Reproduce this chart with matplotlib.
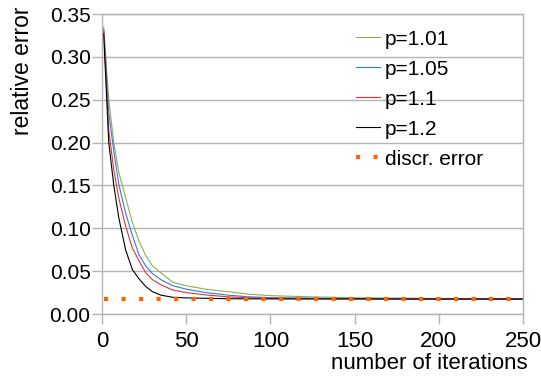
import matplotlib
matplotlib.use("Agg")
import matplotlib.pyplot as plt
from matplotlib.ticker import FormatStrFormatter

plt.rcParams['font.family'] = ['Liberation Sans', 'DejaVu Sans']

iters = [1, 4, 7, 10, 14, 18, 22, 26, 30, 35, 42, 50, 62, 75, 86, 100, 125, 150, 200, 250]

err_p101 = [0.335, 0.250, 0.200, 0.165, 0.136, 0.107, 0.085, 0.068, 0.056, 0.048, 0.037, 0.033,
            0.0288, 0.026, 0.0233, 0.0214, 0.020, 0.019, 0.0182, 0.018]
err_p105 = [0.332, 0.235, 0.190, 0.151, 0.118, 0.092, 0.069, 0.056, 0.047, 0.040, 0.033, 0.029,
            0.0249, 0.022, 0.0202, 0.019, 0.0185, 0.018, 0.0177, 0.0176]
err_p11 = [0.330, 0.215, 0.168, 0.135, 0.103, 0.077, 0.062, 0.048, 0.040, 0.034, 0.028, 0.025,
           0.0222, 0.020, 0.019, 0.0185, 0.018, 0.0178, 0.0176, 0.0175]
err_p12 = [0.327, 0.200, 0.150, 0.112, 0.075, 0.052, 0.041, 0.032, 0.026, 0.022, 0.0195, 0.0188,
           0.0183, 0.0178, 0.0177, 0.0176, 0.0175, 0.0175, 0.0174, 0.0174]

discr_iters = [1, 250]
discr_err = [0.0175, 0.0175]

labels = ["p=1.01", "p=1.05", "p=1.1", "p=1.2", "discr. error"]
colors = ["#8cb04c", "#2a7fdc", "#e0303c", "#000000", "#ff6600"]

fig = plt.figure(figsize=(5.41, 3.78), dpi=100)
ax = fig.add_axes([102 / 541, 1 - 314 / 378, 421 / 541, 300 / 378])

for vals, lab, col in zip([err_p101, err_p105, err_p11, err_p12], labels[:4], colors[:4]):
    ax.plot(iters, vals, color=col, lw=0.8, label=lab)
ax.plot(discr_iters, discr_err, color=colors[4], lw=3, linestyle=(0, (1, 3.2)),
        dash_capstyle='butt', label=labels[4])

ax.set_xlim(0, 250)
ax.set_ylim(0, 0.35)
ax.set_xticks(range(0, 251, 50))
ax.set_yticks([i * 0.05 for i in range(8)])
ax.yaxis.set_major_formatter(FormatStrFormatter('%.2f'))

grey = "#b3b3b3"
ax.grid(axis='y', color=grey, lw=1)
ax.set_axisbelow(True)
for s in ax.spines.values():
    s.set_color(grey)
    s.set_linewidth(1)
ax.tick_params(axis='both', direction='out', length=7.2, width=1, color=grey)
ax.tick_params(axis='x', labelsize=16, pad=5)
ax.tick_params(axis='y', labelsize=15, pad=1)

ax.set_xlabel("number of iterations", fontsize=16, ha='right', va='center')
ax.xaxis.set_label_coords(1.012, -0.165)
ax.set_ylabel("relative error", fontsize=16.5, ha='center', va='center')
ax.yaxis.set_label_coords(-0.188, 0.81)

ax.legend(loc='upper left', bbox_to_anchor=(0.603, 0.948), frameon=False, fontsize=15,
          handlelength=1.15, handletextpad=0.25, labelspacing=0.53, borderpad=0,
          borderaxespad=0)

fig.savefig("out.png", dpi=100)
